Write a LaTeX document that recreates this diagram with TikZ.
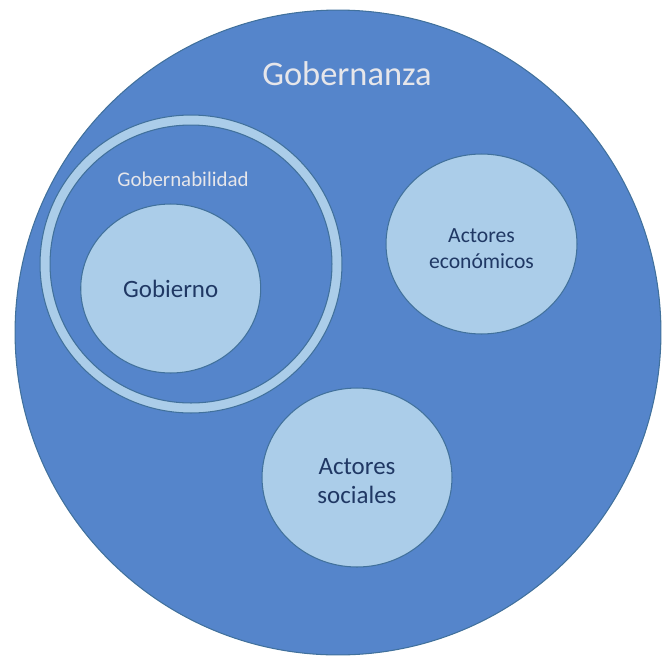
\documentclass[tikz,border=0pt]{standalone}
\usepackage{fontspec}
\setmainfont{Carlito}
\usetikzlibrary{shapes.geometric}
\definecolor{fondo}{HTML}{5585CB}
\definecolor{claro}{HTML}{ABCDE9}
\definecolor{borde}{HTML}{41719C}
\definecolor{texto}{HTML}{203864}
\definecolor{blanco}{HTML}{E6E6EA}

\begin{document}
\begin{tikzpicture}[x=0.02cm,y=-0.02cm,
  circulo/.style={ellipse,draw=borde,line width=0.6pt,inner sep=0pt},
  actor/.style={circulo,fill=claro,text=texto,align=center},
  etiqueta/.style={text=blanco,inner sep=0pt}]
\useasboundingbox (0,0) rectangle (662,656);
% Gobernanza
\node[circulo,fill=fondo,minimum width=12.92cm,minimum height=12.9cm] (G)at(338,332.5){};
\node[etiqueta,font=\fontsize{19.6}{23}\selectfont] (GL)at(347,74){Gobernanza};
% Gobernabilidad
\node[circulo,fill=claro,minimum width=6.04cm,minimum height=5.96cm] (B)at(191,264){};
\node[circulo,fill=fondo,minimum width=5.64cm,minimum height=5.56cm] (Bi)at(191,264){};
\node[etiqueta,font=\fontsize{11.9}{14}\selectfont] (BL)at(183,179){Gobernabilidad};
% actores
\node[actor,minimum width=3.6cm,minimum height=3.38cm,font=\fontsize{14.2}{17}\selectfont] (Go)at(170.7,288.5){Gobierno};
\node[actor,minimum width=3.82cm,minimum height=3.6cm,font=\fontsize{12.3}{14.8}\selectfont,text height=28.5pt] (AE)at(481.5,244){Actores\\econ\'omicos};
\node[actor,minimum width=3.8cm,minimum height=3.58cm,font=\fontsize{14.2}{16.5}\selectfont,text height=29.7pt] (AS)at(357,477.5){Actores\\sociales};
\end{tikzpicture}
\end{document}
